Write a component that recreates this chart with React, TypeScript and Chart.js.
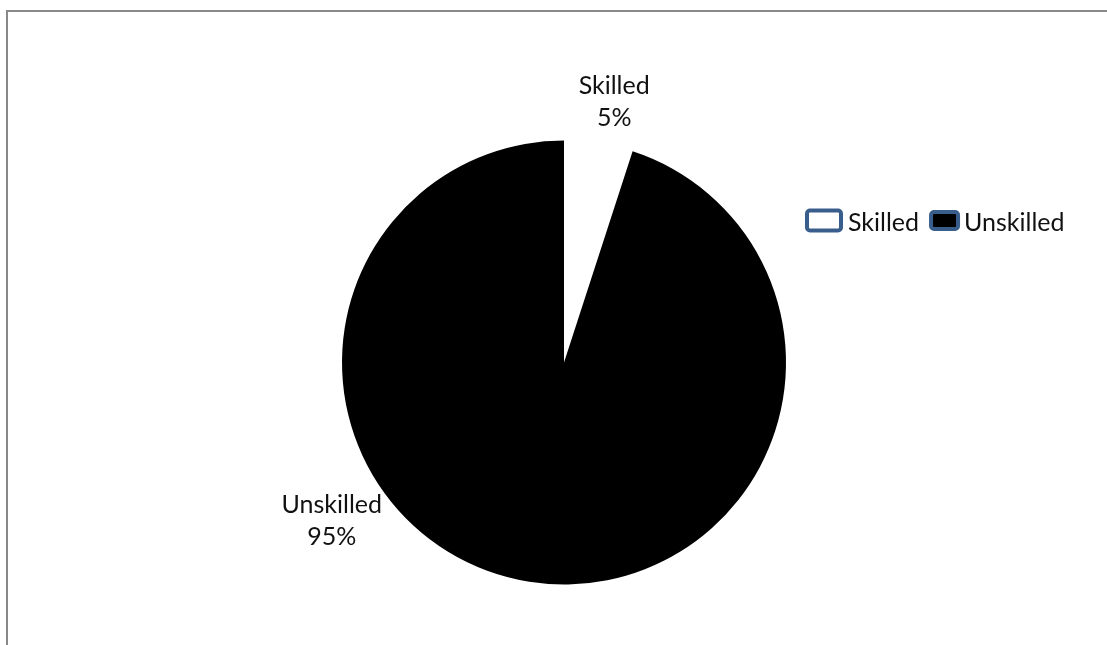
import React, { useEffect, useRef } from "react";
import { Chart, registerables } from "chart.js";

Chart.register(...registerables);

const categories = ["Skilled", "Unskilled"];
const shares = [5, 95];
const sliceColors = ["#FFFFFF", "#000000"];
const legendBorder = "#3A5E8C";
const FONT = "Lato, 'Open Sans', sans-serif";

// label placement: angle (deg, clockwise from top) and radius factor relative to pie radius
const labelAngles = [10.9, 235.7];
const labelRadius = [1.195, 1.266];

const labelPlugin = {
  id: "sliceLabels",
  afterDraw(chart: any) {
    const meta = chart.getDatasetMeta(0);
    const ctx = chart.ctx;
    const total = shares.reduce((a, b) => a + b, 0);
    ctx.save();
    ctx.font = `25px ${FONT}`;
    ctx.fillStyle = "#111";
    ctx.textAlign = "center";
    ctx.textBaseline = "middle";
    meta.data.forEach((arc: any, i: number) => {
      const p = arc.getProps(["x", "y", "outerRadius"], true);
      const a = (labelAngles[i] * Math.PI) / 180;
      const r = p.outerRadius * labelRadius[i];
      const cx = p.x + Math.sin(a) * r;
      const cy = p.y - Math.cos(a) * r;
      const pct = Math.round((shares[i] / total) * 100) + "%";
      ctx.fillText(String(chart.data.labels[i]), cx, cy - 16);
      ctx.fillText(pct, cx, cy + 16);
    });
    ctx.restore();
  },
};

const legendPlugin = {
  id: "customLegend",
  afterDraw(chart: any) {
    const ctx = chart.ctx;
    const meta = chart.getDatasetMeta(0);
    const p = meta.data[0].getProps(["x", "y", "outerRadius"], true);
    let x = p.x + p.outerRadius + 19;
    const y = p.y - p.outerRadius + 80;
    ctx.save();
    ctx.font = `25px ${FONT}`;
    ctx.textBaseline = "middle";
    ctx.textAlign = "left";
    const boxes = [
      [38, 24, 5],
      [31, 21, 4],
    ];
    chart.data.labels.forEach((lab: string, i: number) => {
      const [bw, bh, gap] = boxes[i];
      ctx.beginPath();
      ctx.lineWidth = 4;
      ctx.strokeStyle = legendBorder;
      ctx.fillStyle = sliceColors[i];
      const bx = x + 2;
      const by = y - bh / 2 + 2;
      if ((ctx as any).roundRect) (ctx as any).roundRect(bx, by, bw - 4, bh - 4, 3);
      else ctx.rect(bx, by, bw - 4, bh - 4);
      ctx.fill();
      ctx.stroke();
      ctx.fillStyle = "#111";
      ctx.fillText(lab, x + bw + gap, y + 2);
      x += bw + gap + ctx.measureText(lab).width + 10;
    });
    ctx.restore();
  },
};

export default function App() {
  const ref = useRef<HTMLCanvasElement>(null);
  useEffect(() => {
    if (!ref.current) return;
    const chart = new Chart(ref.current, {
      type: "pie",
      data: {
        labels: categories,
        datasets: [
          {
            data: shares,
            backgroundColor: sliceColors,
            borderWidth: 0,
          },
        ],
      },
      options: {
        responsive: false,
        animation: false,
        events: [],
        layout: { padding: { left: 342, right: 321, top: 140.5, bottom: 60.5 } },
        plugins: {
          legend: { display: false },
          tooltip: { enabled: false },
        },
      },
      plugins: [labelPlugin, legendPlugin],
    });
    return () => chart.destroy();
  }, []);
  return (
    <div
      style={{
        position: "absolute",
        left: 0,
        top: 0,
        width: 1107,
        height: 645,
        overflow: "hidden",
        background: "#fff",
      }}
    >
      <div
        style={{
          position: "absolute",
          left: 6,
          top: 10,
          width: 1200,
          height: 800,
          border: "2px solid #898989",
        }}
      />
      <canvas
        ref={ref}
        width={1107}
        height={645}
        style={{ position: "absolute", left: 0, top: 0, width: 1107, height: 645 }}
      />
    </div>
  );
}
